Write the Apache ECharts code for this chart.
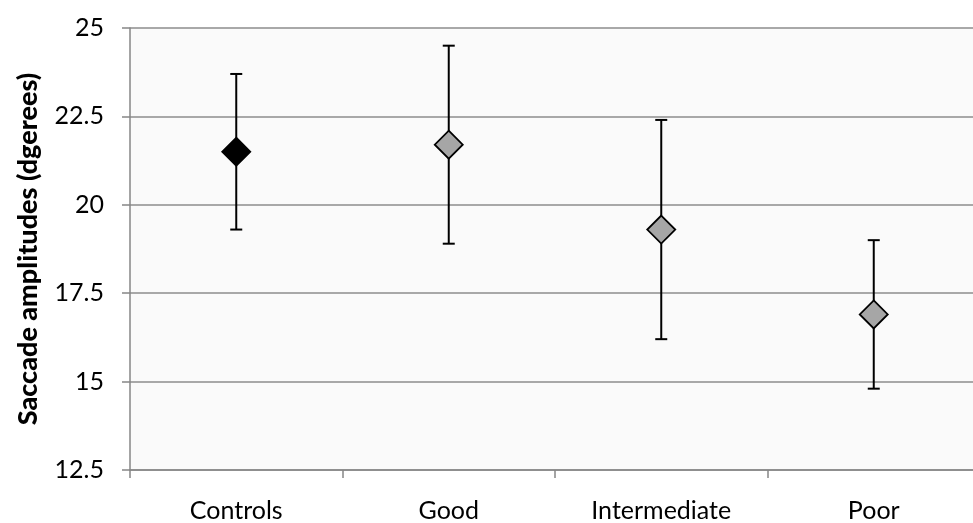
<!DOCTYPE html>
<html>
<head>
<meta charset="utf-8">
<script src="https://cdn.jsdelivr.net/npm/echarts@6/dist/echarts.min.js"></script>
<style>
  html, body { margin: 0; padding: 0; background: #ffffff; }
  #chart { width: 973px; height: 523px; }
</style>
</head>
<body>
<div id="chart"></div>
<script>
// Groups along the x axis
const categories = ['Controls', 'Good', 'Intermediate', 'Poor'];
// Mean saccade amplitude per group (degrees)
const means = [21.5, 21.7, 19.3, 16.9];
// Error bar ends per group
const upper = [23.7, 24.5, 22.4, 19.0];
const lower = [19.3, 18.9, 16.2, 14.8];
// Marker fill per group
const fills = ['#000000', '#a6a6a6', '#a6a6a6', '#a6a6a6'];

const FONT = 'Lato';
const chart = echarts.init(document.getElementById('chart'), null, { renderer: 'canvas' });

const errData = categories.map((c, i) => [i, lower[i], upper[i]]);
const pointData = categories.map((c, i) => ({
  value: [i, means[i]],
  itemStyle: { color: fills[i], borderColor: '#000000', borderWidth: 1.8, opacity: 1 }
}));

chart.setOption({
  animation: false,
  backgroundColor: '#ffffff',
  grid: {
    left: 130, top: 28, width: 850, height: 442,
    outerBoundsMode: 'none',
    containLabel: false,
    show: true, backgroundColor: '#fafafa', borderWidth: 0
  },
  xAxis: {
    type: 'category',
    data: categories,
    boundaryGap: true,
    axisLine: { show: true, lineStyle: { color: '#868686', width: 1.5 } },
    axisTick: { show: true, length: 8, alignWithLabel: false, lineStyle: { color: '#868686', width: 1.5 } },
    axisLabel: { color: '#000000', fontFamily: FONT, fontSize: 25, margin: 28 },
    splitLine: { show: false }
  },
  yAxis: {
    type: 'value',
    min: 12.5, max: 25, interval: 2.5,
    name: 'Saccade amplitudes (dgerees)',
    nameLocation: 'middle',
    nameGap: 88,
    nameRotate: 90,
    nameTextStyle: { color: '#000000', fontFamily: FONT, fontSize: 27, fontWeight: 900, padding: [0, 0, 0, 0] },
    axisLine: { show: true, lineStyle: { color: '#868686', width: 1.5 } },
    axisTick: { show: true, length: 8, lineStyle: { color: '#868686', width: 1.5 } },
    axisLabel: { color: '#000000', fontFamily: FONT, fontSize: 25, margin: 26 },
    splitLine: { show: true, lineStyle: { color: '#8c8c8c', width: 1.5 } }
  },
  series: [
    {
      type: 'custom',
      name: 'error',
      data: errData,
      renderItem: function (params, api) {
        const x = api.value(0);
        const lo = api.coord([x, api.value(1)]);
        const hi = api.coord([x, api.value(2)]);
        const half = 6;
        const style = { stroke: '#000000', lineWidth: 2 };
        return {
          type: 'group',
          children: [
            { type: 'line', shape: { x1: hi[0], y1: hi[1], x2: lo[0], y2: lo[1] }, style: style },
            { type: 'line', shape: { x1: hi[0] - half, y1: hi[1], x2: hi[0] + half, y2: hi[1] }, style: style },
            { type: 'line', shape: { x1: lo[0] - half, y1: lo[1], x2: lo[0] + half, y2: lo[1] }, style: style }
          ]
        };
      },
      z: 2
    },
    {
      type: 'scatter',
      name: 'mean',
      data: pointData,
      symbol: 'diamond',
      symbolSize: [28, 28],
      z: 3
    }
  ]
});
</script>
</body>
</html>
